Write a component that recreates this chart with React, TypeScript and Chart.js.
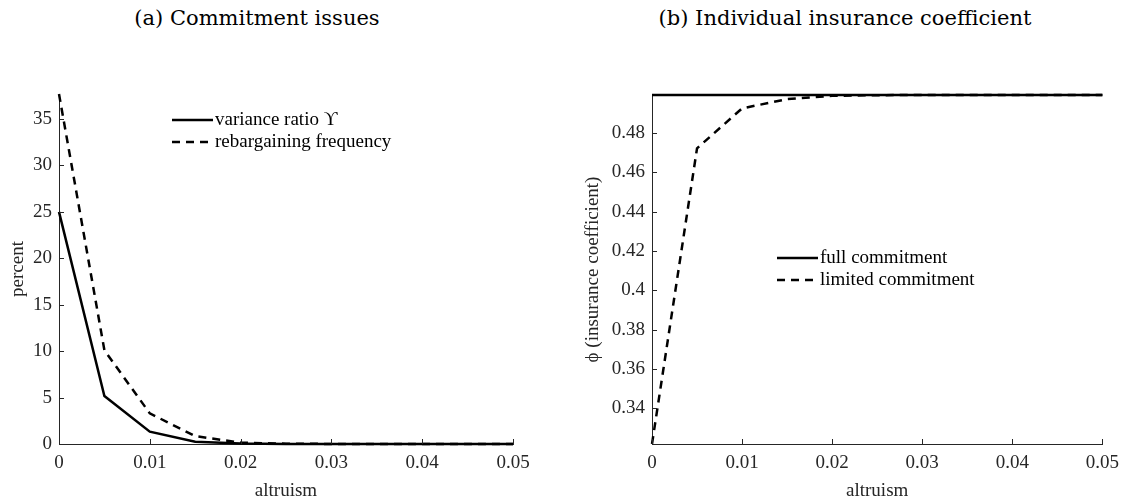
import React, { useEffect, useRef } from "react";
import { Chart, registerables } from "chart.js";

Chart.register(...registerables);

// ---------- data ----------
const altruism = [0, 0.005, 0.01, 0.015, 0.02, 0.025, 0.03, 0.035, 0.04, 0.045, 0.05];
const varianceRatio = [25, 5.17, 1.33, 0.25, 0.05, 0.01, 0, 0, 0, 0, 0];
const rebargainingFrequency = [37.7, 10.1, 3.3, 0.85, 0.15, 0.03, 0.01, 0, 0, 0, 0];
const fullCommitment = [0.4993, 0.4993, 0.4993, 0.4993, 0.4993, 0.4993, 0.4993, 0.4993, 0.4993, 0.4993, 0.4993];
const limitedCommitment = [0.3218, 0.4722, 0.4925, 0.4972, 0.4989, 0.4992, 0.4993, 0.4993, 0.4993, 0.4993, 0.4993];

const xTicks = [0, 0.01, 0.02, 0.03, 0.04, 0.05];
const yTicksA = [0, 5, 10, 15, 20, 25, 30, 35];
const yTicksB = [0.34, 0.36, 0.38, 0.4, 0.42, 0.44, 0.46, 0.48];

const titleA = "(a) Commitment issues";
const titleB = "(b) Individual insurance coefficient";
const xLabel = "altruism";
const yLabelA = "percent";
const yLabelB = "\u03D5 (insurance coefficient)";
const labelsA = ["variance ratio \u03D2", "rebargaining frequency"];
const labelsB = ["full commitment", "limited commitment"];

// ---------- styles ----------
const AXIS = "#262626";
const TICK_FONT = { family: "'Liberation Serif', serif", size: 19 };

const inwardTicks = {
  id: "inwardTicks",
  afterDraw(chart: any) {
    const { ctx, chartArea, scales } = chart;
    ctx.save();
    ctx.strokeStyle = AXIS;
    ctx.lineWidth = 1;
    ctx.beginPath();
    for (const t of scales.x.ticks) {
      const px = Math.round(scales.x.getPixelForValue(t.value)) + 0.5;
      ctx.moveTo(px, chartArea.bottom);
      ctx.lineTo(px, chartArea.bottom - 5);
    }
    for (const t of scales.y.ticks) {
      const py = Math.round(scales.y.getPixelForValue(t.value)) + 0.5;
      ctx.moveTo(chartArea.left, py);
      ctx.lineTo(chartArea.left + 5, py);
    }
    ctx.stroke();
    ctx.restore();
  },
};

const insideLegend = {
  id: "insideLegend",
  afterDraw(chart: any, _args: any, opts: any) {
    if (!opts || opts.x == null) return;
    const { ctx } = chart;
    ctx.save();
    chart.data.datasets.forEach((ds: any, i: number) => {
      const y = opts.y + i * opts.dy;
      ctx.strokeStyle = ds.borderColor;
      ctx.lineWidth = ds.borderWidth;
      ctx.setLineDash(ds.borderDash || []);
      ctx.beginPath();
      ctx.moveTo(opts.x, y);
      ctx.lineTo(opts.x + opts.len, y);
      ctx.stroke();
      ctx.setLineDash([]);
      ctx.fillStyle = "#000";
      ctx.font = "19px 'Liberation Serif', serif";
      ctx.textBaseline = "middle";
      ctx.textAlign = "left";
      ctx.fillText(ds.label, opts.x + opts.len + 2, y);
    });
    ctx.restore();
  },
};

function makeDataset(label: string, values: number[], dashed: boolean) {
  return {
    label,
    data: altruism.map((x, i) => ({ x, y: values[i] })),
    borderColor: "#000",
    backgroundColor: "#000",
    borderWidth: 2.5,
    borderDash: dashed ? [8, 6] : [],
    pointRadius: 0,
    tension: 0,
    clip: false as any,
  };
}

function buildConfig(p: {
  datasets: any[];
  yMin: number;
  yMax: number;
  yTicks: number[];
  yFmt: (v: number) => string;
  yLabel: string;
  yWidth: number;
  yTitlePad: number;
  padRight: number;
  padTop: number;
  legend: any;
}) {
  return {
    type: "line" as const,
    data: { datasets: p.datasets },
    plugins: [inwardTicks, insideLegend],
    options: {
      animation: false as const,
      responsive: false,
      maintainAspectRatio: false,
      layout: { padding: { left: 0, right: p.padRight, top: p.padTop, bottom: 0 } },
      plugins: {
        legend: { display: false },
        tooltip: { enabled: false },
        title: { display: false },
        insideLegend: p.legend,
      },
      scales: {
        x: {
          type: "linear" as const,
          min: 0,
          max: 0.05,
          afterBuildTicks: (s: any) => {
            s.ticks = xTicks.map((v) => ({ value: v }));
          },
          afterFit: (s: any) => {
            s.height = 58;
          },
          grid: { display: false, drawTicks: false },
          border: { display: true, color: AXIS, width: 1 },
          ticks: {
            color: AXIS,
            font: TICK_FONT,
            padding: 8,
            maxRotation: 0,
            autoSkip: false,
            callback: (v: any) => (v === 0 ? "0" : Number(v).toFixed(2)),
          },
          title: {
            display: true,
            text: xLabel,
            color: AXIS,
            font: TICK_FONT,
            padding: { top: 0, bottom: 0 },
          },
        },
        y: {
          type: "linear" as const,
          min: p.yMin,
          max: p.yMax,
          afterBuildTicks: (s: any) => {
            s.ticks = p.yTicks.map((v) => ({ value: v }));
          },
          afterFit: (s: any) => {
            s.width = p.yWidth;
          },
          grid: { display: false, drawTicks: false },
          border: { display: true, color: AXIS, width: 1 },
          ticks: {
            color: AXIS,
            font: TICK_FONT,
            padding: 7,
            autoSkip: false,
            callback: (v: any) => p.yFmt(Number(v)),
          },
          title: {
            display: true,
            text: p.yLabel,
            color: AXIS,
            font: TICK_FONT,
            padding: { top: p.yTitlePad, bottom: 0 },
          },
        },
      },
    },
  };
}

function ChartCanvas({ config, width, height }: { config: any; width: number; height: number }) {
  const ref = useRef<HTMLCanvasElement | null>(null);
  useEffect(() => {
    if (!ref.current) return;
    const chart = new Chart(ref.current, config);
    return () => chart.destroy();
  }, [config]);
  return <canvas ref={ref} width={width} height={height} style={{ display: "block", width, height }} />;
}

const configA = buildConfig({
  datasets: [
    makeDataset(labelsA[0], varianceRatio, false),
    makeDataset(labelsA[1], rebargainingFrequency, true),
  ],
  yMin: 0,
  yMax: 37.7,
  yTicks: yTicksA,
  yFmt: (v) => String(v),
  yLabel: yLabelA,
  yWidth: 59,
  yTitlePad: 7,
  padRight: 47,
  padTop: 94,
  legend: { x: 172, y: 120, dy: 22, len: 41 },
});

const configB = buildConfig({
  datasets: [
    makeDataset(labelsB[0], fullCommitment, false),
    makeDataset(labelsB[1], limitedCommitment, true),
  ],
  yMin: 0.3218,
  yMax: 0.4993,
  yTicks: yTicksB,
  yFmt: (v) => String(parseFloat(v.toFixed(2))),
  yLabel: yLabelB,
  yWidth: 92,
  yTitlePad: 22,
  padRight: 22,
  padTop: 95,
  legend: { x: 217, y: 258, dy: 22, len: 41 },
});

const titleStyle: React.CSSProperties = {
  position: "absolute",
  top: 5,
  transform: "translateX(-50%)",
  fontFamily: "'DejaVu Serif', serif",
  fontSize: 21,
  lineHeight: "26px",
  color: "#000",
  whiteSpace: "nowrap",
};

export default function App() {
  return (
    <div style={{ position: "absolute", left: 0, top: 0, width: 1127, height: 502, background: "#fff", overflow: "hidden" }}>
      <div style={{ ...titleStyle, left: 257 }}>{titleA}</div>
      <div style={{ ...titleStyle, left: 845 }}>{titleB}</div>
      <div style={{ position: "absolute", left: 0, top: 0 }}>
        <ChartCanvas config={configA} width={560} height={502} />
      </div>
      <div style={{ position: "absolute", left: 560, top: 0 }}>
        <ChartCanvas config={configB} width={567} height={502} />
      </div>
    </div>
  );
}
